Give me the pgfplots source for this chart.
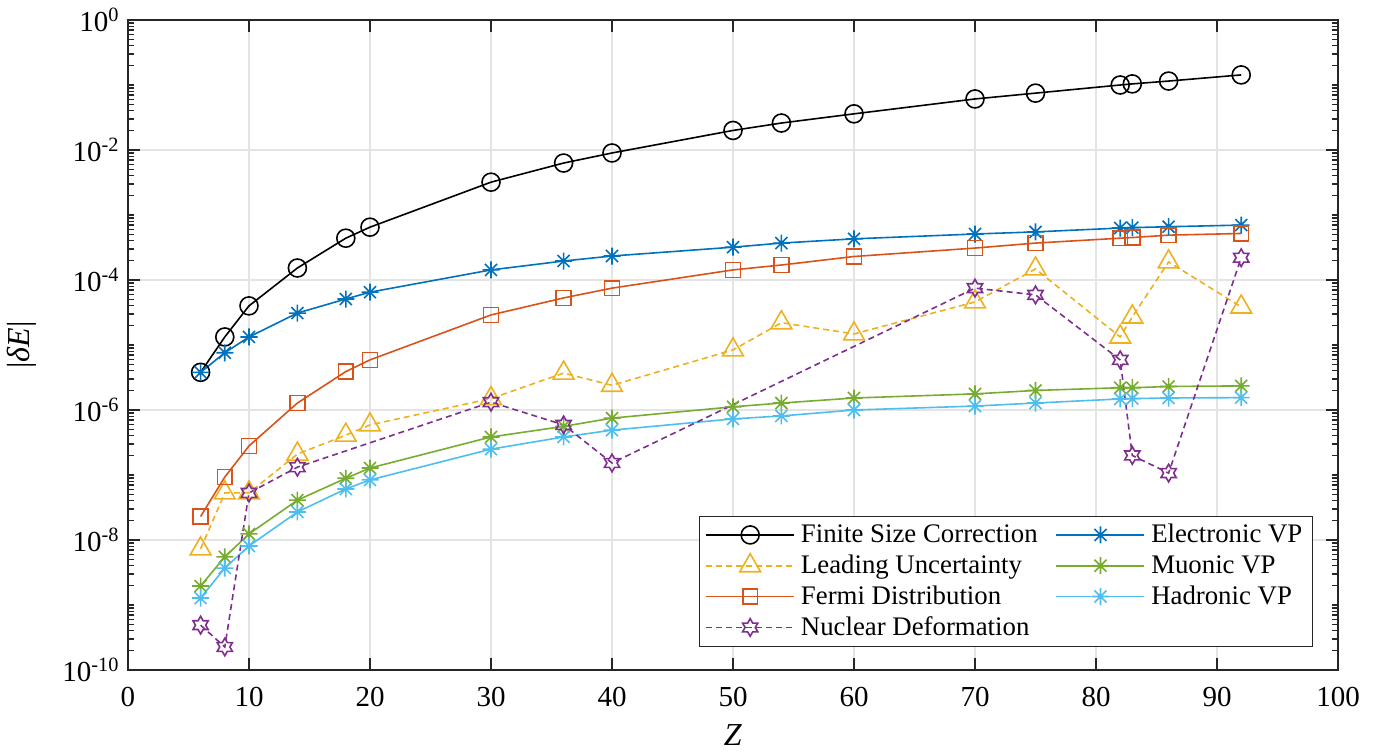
\documentclass[border=0pt]{standalone}
\usepackage{fontspec}
\setmainfont{Liberation Serif}
\usepackage{pgfplots}
\pgfplotsset{compat=1.18}

\definecolor{axisgray}{RGB}{38,38,38}
\definecolor{gridgray}{RGB}{228,228,228}
\definecolor{mblue}{rgb}{0,0.447,0.741}
\definecolor{morange}{rgb}{0.850,0.325,0.098}
\definecolor{myellow}{rgb}{0.929,0.694,0.125}
\definecolor{mpurple}{rgb}{0.494,0.184,0.556}
\definecolor{mgreen}{rgb}{0.466,0.674,0.188}
\definecolor{mcyan}{rgb}{0.301,0.745,0.933}

% six-pointed star outline, like the MATLAB 'h' marker
\pgfdeclareplotmark{hexagram}{%
  \pgfpathmoveto{\pgfpointpolar{90}{\pgfplotmarksize}}%
  \pgfpathlineto{\pgfpointpolar{120}{0.577\pgfplotmarksize}}%
  \pgfpathlineto{\pgfpointpolar{150}{\pgfplotmarksize}}%
  \pgfpathlineto{\pgfpointpolar{180}{0.577\pgfplotmarksize}}%
  \pgfpathlineto{\pgfpointpolar{210}{\pgfplotmarksize}}%
  \pgfpathlineto{\pgfpointpolar{240}{0.577\pgfplotmarksize}}%
  \pgfpathlineto{\pgfpointpolar{270}{\pgfplotmarksize}}%
  \pgfpathlineto{\pgfpointpolar{300}{0.577\pgfplotmarksize}}%
  \pgfpathlineto{\pgfpointpolar{330}{\pgfplotmarksize}}%
  \pgfpathlineto{\pgfpointpolar{0}{0.577\pgfplotmarksize}}%
  \pgfpathlineto{\pgfpointpolar{30}{\pgfplotmarksize}}%
  \pgfpathlineto{\pgfpointpolar{60}{0.577\pgfplotmarksize}}%
  \pgfpathclose
  \pgfusepathqstroke
}
% plus + cross, like the MATLAB '*' marker
\pgfdeclareplotmark{mstar}{%
  \pgfpathmoveto{\pgfpointpolar{90}{\pgfplotmarksize}}%
  \pgfpathlineto{\pgfpointpolar{270}{\pgfplotmarksize}}%
  \pgfpathmoveto{\pgfpointpolar{0}{\pgfplotmarksize}}%
  \pgfpathlineto{\pgfpointpolar{180}{\pgfplotmarksize}}%
  \pgfpathmoveto{\pgfpointpolar{45}{\pgfplotmarksize}}%
  \pgfpathlineto{\pgfpointpolar{225}{\pgfplotmarksize}}%
  \pgfpathmoveto{\pgfpointpolar{135}{\pgfplotmarksize}}%
  \pgfpathlineto{\pgfpointpolar{315}{\pgfplotmarksize}}%
  \pgfusepathqstroke
}

\begin{document}
\begin{tikzpicture}
\begin{axis}[
  scale only axis,
  width=605pt, height=325pt,
  xmode=linear, ymode=log,
  xmin=0, xmax=100, ymin=1e-10, ymax=1,
  xtick={0,10,...,100},
  ytick={1e-10,1e-8,1e-6,1e-4,1e-2,1},
  yticklabels={10\textsuperscript{-10},10\textsuperscript{-8},10\textsuperscript{-6},10\textsuperscript{-4},10\textsuperscript{-2},10\textsuperscript{0}},
  minor ytick={2e-10,3e-10,4e-10,5e-10,6e-10,7e-10,8e-10,9e-10,1e-9,
    2e-9,3e-9,4e-9,5e-9,6e-9,7e-9,8e-9,9e-9,
    2e-8,3e-8,4e-8,5e-8,6e-8,7e-8,8e-8,9e-8,1e-7,
    2e-7,3e-7,4e-7,5e-7,6e-7,7e-7,8e-7,9e-7,
    2e-6,3e-6,4e-6,5e-6,6e-6,7e-6,8e-6,9e-6,1e-5,
    2e-5,3e-5,4e-5,5e-5,6e-5,7e-5,8e-5,9e-5,
    2e-4,3e-4,4e-4,5e-4,6e-4,7e-4,8e-4,9e-4,1e-3,
    2e-3,3e-3,4e-3,5e-3,6e-3,7e-3,8e-3,9e-3,
    2e-2,3e-2,4e-2,5e-2,6e-2,7e-2,8e-2,9e-2,1e-1,
    2e-1,3e-1,4e-1,5e-1,6e-1,7e-1,8e-1,9e-1},
  /pgf/number format/assume math mode=true,
  tick label style={font=\fontsize{14.5}{17}\selectfont},
  xticklabel style={yshift=-5pt},
  yticklabel style={xshift=-0.7pt},
  tick align=inside,
  major tick length=6pt, minor tick length=3pt,
  every tick/.style={axisgray, line width=0.6pt},
  axis line style={axisgray, line width=0.65pt},
  grid=major,
  major grid style={gridgray, line width=0.6pt},
  minor grid style={draw=none},
  xlabel={\textit{Z}},
  ylabel={|\textit{δE}|},
  label style={font=\fontsize{16}{19}\selectfont},
  xlabel style={at={(axis description cs:0.5,-0.1)}, anchor=center},
  ylabel style={at={(axis description cs:-0.0876,0.5)}, anchor=center},
  legend columns=2,
  legend cell align=left,
  legend style={at={(0.9793,0.0354)}, anchor=south east,
    font=\fontsize{13.4}{16}\selectfont,
    draw=axisgray, line width=0.6pt, fill=white,
    inner xsep=3pt, inner ysep=2pt, row sep=0.6pt,
    /tikz/every odd column/.append style={column sep=1pt},
    /tikz/every even column/.append style={column sep=7pt}},
  legend image code/.code={\draw[mark repeat=2,mark phase=2] plot coordinates {(0pt,0pt)(22pt,0pt)(44pt,0pt)};},
  every axis plot/.append style={line width=0.8pt},
]
\addplot[black, mark=o, mark size=4.5pt] coordinates {
  (6,3.8e-6)(8,1.33e-5)(10,4.0e-5)(14,1.53e-4)(18,4.4e-4)(20,6.5e-4)
  (30,3.2e-3)(36,6.3e-3)(40,9.0e-3)(50,2.0e-2)(54,2.6e-2)(60,3.6e-2)
  (70,6.1e-2)(75,7.5e-2)(82,0.100)(83,0.104)(86,0.115)(92,0.143)};
\addlegendentry{Finite Size Correction}
\addplot[mblue, mark=mstar, mark size=4.25pt] coordinates {
  (6,3.8e-6)(8,7.6e-6)(10,1.33e-5)(14,3.1e-5)(18,5.1e-5)(20,6.5e-5)
  (30,1.43e-4)(36,1.96e-4)(40,2.34e-4)(50,3.2e-4)(54,3.7e-4)(60,4.3e-4)
  (70,5.1e-4)(75,5.5e-4)(82,6.3e-4)(83,6.4e-4)(86,6.6e-4)(92,7.0e-4)};
\addlegendentry{Electronic VP}
\addplot[myellow, dash pattern=on 3pt off 2pt, mark=triangle, mark size=6pt, mark options={solid}] coordinates {
  (6,7.3e-9)(8,5.3e-8)(10,5.3e-8)(14,2.1e-7)(18,4.1e-7)(20,5.9e-7)
  (30,1.5e-6)(36,3.7e-6)(40,2.4e-6)(50,8.4e-6)(54,2.2e-5)(60,1.48e-5)
  (70,4.6e-5)(75,1.48e-4)(82,1.33e-5)(83,2.7e-5)(86,1.9e-4)(92,3.85e-5)};
\addlegendentry{Leading Uncertainty}
\addplot[mgreen, mark=mstar, mark size=4.25pt] coordinates {
  (6,1.96e-9)(8,5.5e-9)(10,1.24e-8)(14,4.1e-8)(18,8.9e-8)(20,1.28e-7)
  (30,3.85e-7)(36,5.6e-7)(40,7.5e-7)(50,1.12e-6)(54,1.28e-6)(60,1.53e-6)
  (70,1.77e-6)(75,2.0e-6)(82,2.2e-6)(83,2.2e-6)(86,2.3e-6)(92,2.35e-6)};
\addlegendentry{Muonic VP}
\addplot[morange, mark=square, mark size=3.7pt] coordinates {
  (6,2.3e-8)(8,9.3e-8)(10,2.8e-7)(14,1.28e-6)(18,3.9e-6)(20,5.9e-6)
  (30,2.9e-5)(36,5.3e-5)(40,7.5e-5)(50,1.43e-4)(54,1.7e-4)(60,2.3e-4)
  (70,3.1e-4)(75,3.7e-4)(82,4.4e-4)(83,4.5e-4)(86,4.9e-4)(92,5.2e-4)};
\addlegendentry{Fermi Distribution}
\addplot[mcyan, mark=mstar, mark size=4.25pt] coordinates {
  (6,1.28e-9)(8,3.7e-9)(10,8.1e-9)(14,2.7e-8)(18,6.1e-8)(20,8.4e-8)
  (30,2.5e-7)(36,3.85e-7)(40,4.9e-7)(50,7.3e-7)(54,8.1e-7)(60,1.0e-6)
  (70,1.15e-6)(75,1.28e-6)(82,1.48e-6)(83,1.5e-6)(86,1.53e-6)(92,1.55e-6)};
\addlegendentry{Hadronic VP}
\addplot[mpurple, dash pattern=on 3pt off 2pt, mark=hexagram, mark size=4.4pt, mark options={solid}] coordinates {
  (6,4.9e-10)(8,2.26e-10)(10,5.3e-8)(14,1.32e-7)(30,1.32e-6)(36,5.9e-7)
  (40,1.53e-7)(70,7.5e-5)(75,5.9e-5)(82,5.9e-6)(83,2.0e-7)(86,1.07e-7)(92,2.2e-4)};
\addlegendentry{Nuclear Deformation}
\coordinate (sw) at (rel axis cs:0,0);
\coordinate (ne) at (rel axis cs:1,1);
\end{axis}
\pgfresetboundingbox
\path[use as bounding box] ([xshift=-64pt,yshift=-42pt]sw) rectangle ([xshift=26.5pt,yshift=10pt]ne);
\end{tikzpicture}
\end{document}
